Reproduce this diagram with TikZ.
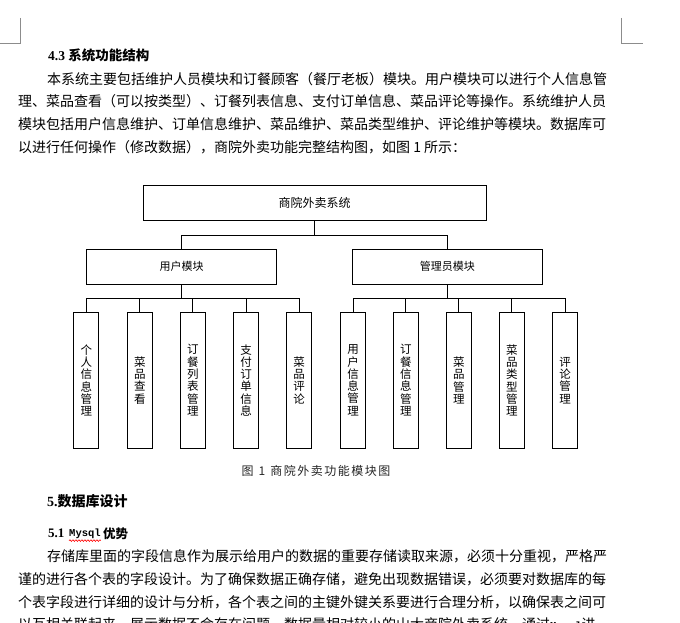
\documentclass[tikz,border=0pt]{standalone}
\usepackage{fontspec}
\setmainfont{Liberation Serif}
\newfontfamily\cjk{Noto Sans CJK SC}
\newfontfamily\monof{Liberation Mono}
\usetikzlibrary{decorations.pathmorphing}
\begin{document}
\begin{tikzpicture}[x=1pt,y=-1pt,
  txt/.style={anchor=west, inner sep=0pt, font=\cjk\fontsize{14}{16}\selectfont},
  box/.style={draw, line width=0.9pt, inner sep=0pt},
  leaf/.style={box, minimum width=25pt, minimum height=135.3pt, align=center, font=\cjk\fontsize{11.5}{12.3}\selectfont},
  modbox/.style={box, minimum height=35pt, font=\cjk\fontsize{11}{13}\selectfont},
  link/.style={line width=0.9pt},
  cornermark/.style={draw=black!45, line width=0.8pt}
]
\useasboundingbox (0,0) rectangle (680,623);
\clip (0,0) rectangle (680,623);
\fill[white] (0,0) rectangle (680,623);

% corner marks
\coordinate (cl1) at (20,18); \coordinate (cl2) at (20,43); \coordinate (cl3) at (0,43);
\coordinate (cr1) at (621,18); \coordinate (cr2) at (621,43); \coordinate (cr3) at (643,43);
\draw[cornermark] (cl1) -- (cl2) -- (cl3);
\draw[cornermark] (cr1) -- (cr2) -- (cr3);

% heading and paragraph
\node[txt, font=\fontsize{13.5}{15}\selectfont\bfseries] (h43) at (48,55.5) {4.3\ {\cjk 系统功能结构}};
\node[txt] (p1) at (47,79) {本系统主要包括维护人员模块和订餐顾客（餐厅老板）模块。用户模块可以进行个人信息管};
\node[txt] (p2) at (18,101.5) {理、菜品查看（可以按类型）、订餐列表信息、支付订单信息、菜品评论等操作。系统维护人员};
\node[txt] (p3) at (18,124.5) {模块包括用户信息维护、订单信息维护、菜品维护、菜品类型维护、评论维护等模块。数据库可};
\node[txt] (p4) at (18,147.5) {以进行任何操作（修改数据），商院外卖功能完整结构图，如图 1 所示：};

% diagram
\node[box, minimum width=343pt, minimum height=35pt, font=\cjk\fontsize{12}{14}\selectfont] (top) at (314.5,202.5) {商院外卖系统};
\node[modbox, minimum width=190pt] (um) at (181.7,266.5) {用户模块};
\node[modbox, minimum width=189.3pt] (am) at (447.4,266.5) {管理员模块};

\node[leaf] (u1) at (86.3,380.3) {个\\人\\信\\息\\管\\理};
\node[leaf] (u2) at (139.8,380.3) {菜\\品\\查\\看};
\node[leaf] (u3) at (192.8,380.3) {订\\餐\\列\\表\\管\\理};
\node[leaf] (u4) at (246.0,380.3) {支\\付\\订\\单\\信\\息};
\node[leaf] (u5) at (299.0,380.3) {菜\\品\\评\\论};
\node[leaf] (a1) at (353.0,380.3) {用\\户\\信\\息\\管\\理};
\node[leaf] (a2) at (405.8,380.3) {订\\餐\\信\\息\\管\\理};
\node[leaf] (a3) at (458.8,380.3) {菜\\品\\管\\理};
\node[leaf] (a4) at (511.8,380.3) {菜\\品\\类\\型\\管\\理};
\node[leaf] (a5) at (565.0,380.3) {评\\论\\管\\理};

\draw[link] (top.south) -- ++(0,14.5) -| (um.north);
\draw[link] (top.south) -- ++(0,14.5) -| (am.north);
\foreach \l in {u1,u2,u3,u4,u5} \draw[link] (um.south) -- ++(0,14) -| (\l.north);
\foreach \l in {a1,a2,a3,a4,a5} \draw[link] (am.south) -- ++(0,14) -| (\l.north);

% caption
\node[inner sep=0pt, font=\cjk\fontsize{12}{14}\selectfont\color{black!85}] (cap) at (316,470.5)
  {图\kern5pt1\kern5pt 商\kern1.5pt 院\kern1.5pt 外\kern1.5pt 卖\kern1.5pt 功\kern1.5pt 能\kern1.5pt 模\kern1.5pt 块\kern1.5pt 图};

% section 5
\node[txt, font=\fontsize{14}{16}\selectfont\bfseries] (h5) at (47,501.5) {5.{\cjk 数据库设计}};
\node[txt, font=\fontsize{13}{15}\selectfont\bfseries] (h51) at (48,533.5) {5.1};
\node[txt, font=\monof\fontsize{10.5}{13}\selectfont\bfseries] (mysql) at (69,533.5) {Mysql};
\node[txt, font=\cjk\fontsize{12.5}{15}\selectfont\bfseries] (h51b) at (103,533.5) {优势};
\draw[red, line width=0.6pt, decorate, decoration={snake, amplitude=0.8pt, segment length=3pt}]
  ([yshift=-2pt]mysql.south west) -- ([yshift=-2pt]mysql.south east);

\node[txt] (q1) at (47,556) {存储库里面的字段信息作为展示给用户的数据的重要存储读取来源，必须十分重视，严格严};
\node[txt] (q2) at (18,579) {谨的进行各个表的字段设计。为了确保数据正确存储，避免出现数据错误，必须要对数据库的每};
\node[txt] (q3) at (18,602) {个表字段进行详细的设计与分析，各个表之间的主键外键关系要进行合理分析，以确保表之间可};
\node[txt] (q4) at (18,625) {以互相关联起来，展示数据不会存在问题，数据量相对较小的山大商院外卖系统，通过{\monof\bfseries\fontsize{10.5}{13}\selectfont Mysql}进};
\end{tikzpicture}
\end{document}
